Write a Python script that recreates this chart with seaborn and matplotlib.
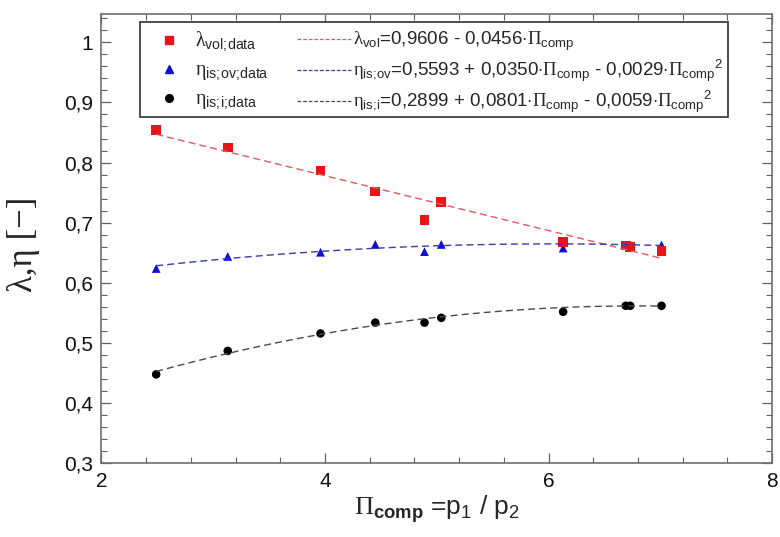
import numpy as np
import pandas as pd
import matplotlib
matplotlib.use("Agg")
import matplotlib.pyplot as plt
import seaborn as sns
from matplotlib.ticker import FixedLocator, MultipleLocator
from matplotlib.patches import Rectangle
from matplotlib.lines import Line2D

# ---------------- data ----------------
pi_comp = [2.49, 3.13, 3.96, 4.45, 4.89, 5.04, 6.13, 6.69, 6.73, 7.01]
lambda_vol = [0.854, 0.825, 0.787, 0.752, 0.705, 0.735, 0.668, 0.662, 0.660, 0.653]
eta_is_ov = [0.624, 0.644, 0.651, 0.664, 0.652, 0.664, 0.658, 0.662, 0.662, 0.663]
eta_is_i = [0.448, 0.487, 0.516, 0.534, 0.534, 0.542, 0.552, 0.562, 0.562, 0.562]

# fit coefficients (c0 + c1*x + c2*x^2) as printed in the legend
fit_lambda = [0.9606, -0.0456]
fit_ov = [0.5593, 0.0350, -0.0029]
fit_i = [0.2899, 0.0801, -0.0059]

xticks = [2, 4, 6, 8]
xtick_labels = ["2", "4", "6", "8"]
yticks = [0.3, 0.4, 0.5, 0.6, 0.7, 0.8, 0.9, 1.0]
ytick_labels = ["0,3", "0,4", "0,5", "0,6", "0,7", "0,8", "0,9", "1"]

data_labels = [r"$\mathsf{λ}_{\mathrm{vol;\!data}}$",
               r"$\mathsf{η}_{\mathrm{is;\!ov;\!data}}$",
               r"$\mathsf{η}_{\mathrm{is;\!i;\!data}}$"]
fit_labels = [r"$\mathsf{λ}_{\mathrm{vol}}$=0,9606 - 0,0456$\cdot\mathsf{Π}_{\mathrm{comp}}$",
              r"$\mathsf{η}_{\mathrm{is;\!ov}}$=0,5593 + 0,0350$\cdot\mathsf{Π}_{\mathrm{comp}}$ - 0,0029$\cdot\mathsf{Π}_{\mathrm{comp}}{}^{2}$",
              r"$\mathsf{η}_{\mathrm{is;\!i}}$=0,2899 + 0,0801$\cdot\mathsf{Π}_{\mathrm{comp}}$ - 0,0059$\cdot\mathsf{Π}_{\mathrm{comp}}{}^{2}$"]

# ---------------- style ----------------
sns.set_theme(style="ticks")
plt.rcParams["font.family"] = ["Liberation Sans", "DejaVu Sans"]
plt.rcParams["mathtext.fontset"] = "custom"
plt.rcParams["mathtext.rm"] = "Liberation Sans"
plt.rcParams["mathtext.it"] = "Liberation Sans:italic"
plt.rcParams["mathtext.bf"] = "Liberation Sans:bold"
plt.rcParams["mathtext.sf"] = "Liberation Serif"

fig = plt.figure(figsize=(7.8, 5.37), dpi=100)
ax = fig.add_axes([0.130, 0.137, 0.860, 0.837])

df = pd.DataFrame({"pi": pi_comp, "lam": lambda_vol, "ov": eta_is_ov, "i": eta_is_i})

red, blue, black = "#e8141a", "#1010d0", "#000000"
red_fit, blue_fit, black_fit = "#e05a5a", "#3a3aa8", "#4a4a4a"

xfit = np.linspace(min(pi_comp), max(pi_comp), 200)
fits = pd.DataFrame({
    "x": xfit,
    "lam": np.polynomial.polynomial.polyval(xfit, fit_lambda),
    "ov": np.polynomial.polynomial.polyval(xfit, fit_ov),
    "i": np.polynomial.polynomial.polyval(xfit, fit_i),
})

for col, c in [("lam", red_fit), ("ov", blue_fit), ("i", black_fit)]:
    sns.lineplot(data=fits, x="x", y=col, ax=ax, color=c, lw=1.0,
                 dashes=False, linestyle=(0, (5, 3)), legend=False)

sns.scatterplot(data=df, x="pi", y="i", ax=ax, marker="o", color=black, s=38, edgecolor="none", legend=False)
sns.scatterplot(data=df, x="pi", y="ov", ax=ax, marker="^", color=blue, s=40, edgecolor="none", legend=False)
sns.scatterplot(data=df, x="pi", y="lam", ax=ax, marker="s", color=red, s=48, edgecolor="none", legend=False)

ax.set_xlim(2, 8)
ax.set_ylim(0.3, 1.047)
ax.xaxis.set_major_locator(FixedLocator(xticks))
ax.set_xticklabels(xtick_labels)
ax.yaxis.set_major_locator(FixedLocator(yticks))
ax.set_yticklabels(ytick_labels)
ax.xaxis.set_minor_locator(MultipleLocator(0.4))
ax.yaxis.set_minor_locator(MultipleLocator(0.02))
ax.tick_params(which="both", direction="in", top=True, right=True, color="#606060",
               labelsize=15, labelcolor="#111111")
ax.tick_params(which="major", length=7, width=0.9, pad=6)
ax.tick_params(which="minor", length=4, width=0.8)
for sp in ax.spines.values():
    sp.set_visible(True)
    sp.set_color("#707070")
    sp.set_linewidth(1.2)

ax.set_xlabel(r"$\mathsf{Π}_{\mathbf{comp}}$ =p$_{1}$ / p$_{2}$", fontsize=19, labelpad=2)
ax.set_ylabel("λ,η [−]", fontsize=25, family=["Liberation Serif", "DejaVu Serif"])
ax.yaxis.set_label_coords(-0.091, 0.487)

# legend box
ax.add_patch(Rectangle((0.0576, 0.771), 0.8764, 0.211, transform=ax.transAxes,
                       facecolor="white", edgecolor="#404040", lw=1.3, zorder=5))

h_data = [Line2D([], [], ls="none", marker="s", color=red, ms=5.5),
          Line2D([], [], ls="none", marker="^", color=blue, ms=5.5),
          Line2D([], [], ls="none", marker="o", color=black, ms=5.5)]
h_fit = [Line2D([], [], ls=(0, (3, 1.5)), color=red_fit, lw=0.9),
         Line2D([], [], ls=(0, (3, 1.5)), color=blue_fit, lw=0.9),
         Line2D([], [], ls=(0, (3, 1.5)), color=black_fit, lw=0.9)]

leg1 = ax.legend(h_data, data_labels, loc="upper left", bbox_to_anchor=(0.081, 0.975),
                 frameon=False, fontsize=14.5, handlelength=0.8, handletextpad=0.9,
                 labelspacing=0.32, borderaxespad=0.0, borderpad=0.25)
leg1.set_zorder(6)
ax.add_artist(leg1)
leg2 = ax.legend(h_fit, fit_labels, loc="upper left", bbox_to_anchor=(0.284, 0.975),
                 frameon=False, fontsize=13.5, handlelength=2.9, handletextpad=0.1,
                 labelspacing=0.26, borderaxespad=0.0, borderpad=0.25)
leg2.set_zorder(6)

fig.savefig("out.png", dpi=100)
